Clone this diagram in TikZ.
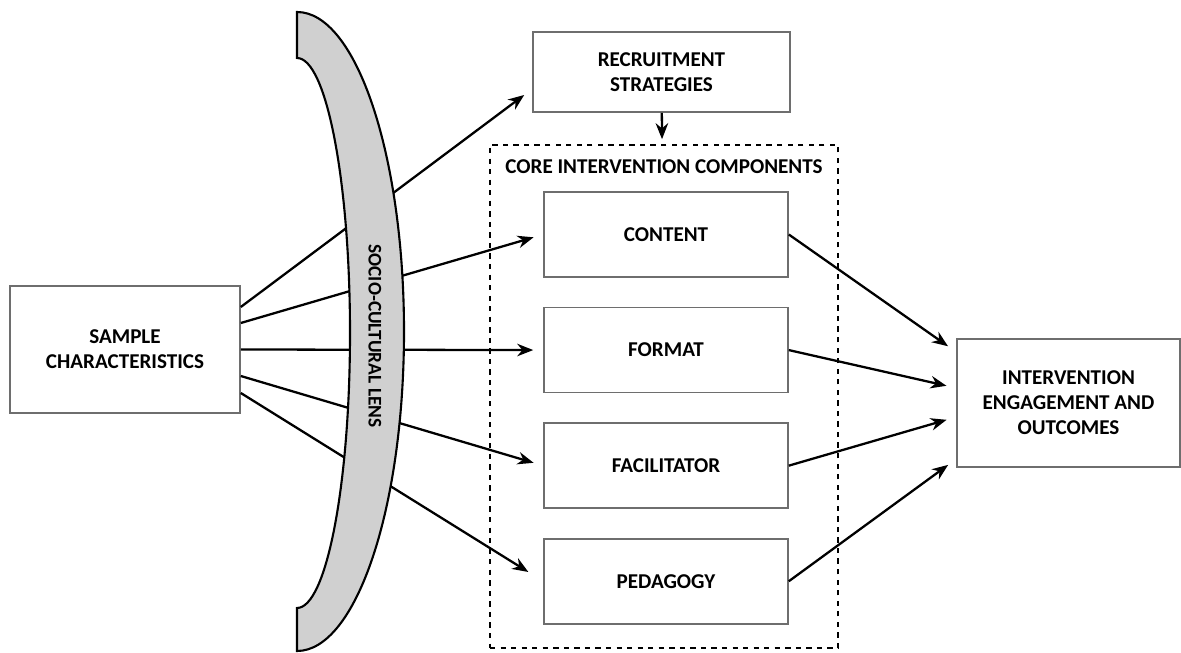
\documentclass[tikz,border=0pt]{standalone}
\usepackage{fontspec}
\setmainfont{Carlito}
\usepackage{tikz}
\usetikzlibrary{arrows.meta, positioning}
\definecolor{cLens}{RGB}{208,208,208}
\definecolor{cEdge}{RGB}{110,110,110}
\tikzset{
	blk/.style  ={rectangle, draw=cEdge, line width=0.9pt, align=center, fill=white},
	comp/.style ={blk, minimum width=4.88cm, minimum height=1.7cm},
	sig/.style  ={-{Stealth[length=3.2mm, width=2.5mm]}, line width=1.3pt, shorten >=0.2cm},
}

\begin{document}
\begin{tikzpicture}[font=\fontsize{12}{14.2}\selectfont\bfseries, node distance=0.58cm]
	\useasboundingbox (0,0) rectangle (23.62,-13.06);
	% boxes
	\node[blk, minimum width=4.6cm, minimum height=2.54cm] (sample) at (2.5,-6.99) {SAMPLE\\CHARACTERISTICS};
	\node[blk, minimum width=5.14cm, minimum height=1.6cm] (recruit) at (13.23,-1.44) {RECRUITMENT\\STRATEGIES};
	\node[draw, dashed, line width=0.9pt, minimum width=6.96cm, minimum height=10.06cm] (core) at (13.28,-7.93) {};
	\node (coretitle) at (13.28,-3.34) {CORE INTERVENTION COMPONENTS};
	\node[comp] (content) at (13.32,-4.69) {CONTENT};
	\node[comp, below=of content] (format) {FORMAT};
	\node[comp, below=of format] (facil) {FACILITATOR};
	\node[comp, below=of facil] (pedag) {PEDAGOGY};
	\node[blk, minimum width=4.46cm, minimum height=2.56cm] (outcome) at (21.37,-8.06) {INTERVENTION\\ENGAGEMENT AND\\OUTCOMES};
	% arrows
	\draw[sig, shorten >=0.1cm] (recruit) -- (core);
	\draw[sig] ([yshift=0.85cm]sample.east) -- ([yshift=-0.34cm]recruit.west);
	\draw[sig] ([yshift=0.53cm]sample.east) -- (content.west);
	\draw[sig] (sample.east) -- (format.west);
	\draw[sig] ([yshift=-0.53cm]sample.east) -- (facil.west);
	\draw[sig, shorten >=0.35cm] ([yshift=-0.87cm]sample.east) -- (pedag.west);
	\draw[sig] (content.east) -- ([yshift=1.02cm]outcome.west);
	\draw[sig] (format.east) -- ([yshift=0.3cm]outcome.west);
	\draw[sig] (facil.east) -- ([yshift=-0.28cm]outcome.west);
	\draw[sig] (pedag.east) -- ([yshift=-1.12cm]outcome.west);
	% socio-cultural lens, over the arrows
	\draw[fill=cLens, line width=1.2pt] (5.94,-0.24) arc[start angle=90, end angle=-90, x radius=2.14, y radius=6.39]
		-- (5.94,-12.16) arc[start angle=-90, end angle=90, x radius=1.06, y radius=5.5] -- cycle;
	\node[rotate=-90, font=\fontsize{11}{13}\selectfont\bfseries] (lens) at (7.5,-6.72) {SOCIO-CULTURAL LENS};
\end{tikzpicture}
\end{document}
